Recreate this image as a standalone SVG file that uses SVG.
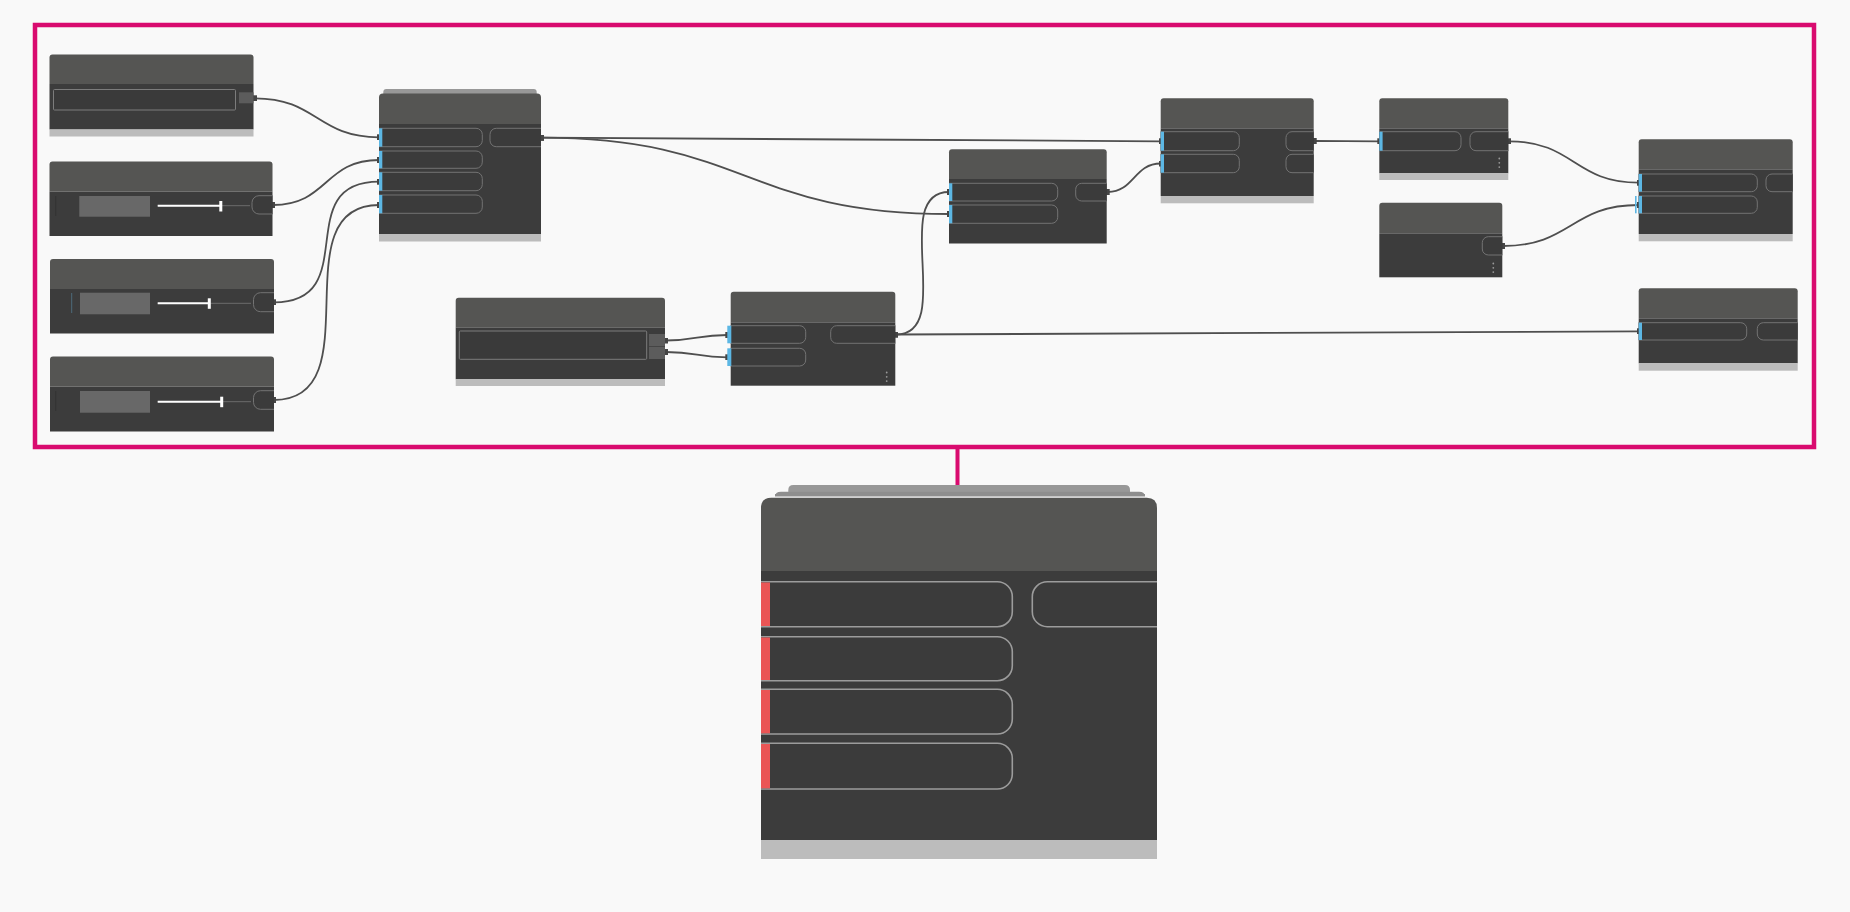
<svg xmlns="http://www.w3.org/2000/svg" width="1850" height="912" viewBox="0 0 1850 912">
  <defs>
    <style>
      .bg { fill: #f9f9f9; }
      .hd { fill: #555553; }
      .bd { fill: #3c3c3c; }
      .ft { fill: #bcbcbc; }
      .stk { fill: #8e8e8e; }
      .stk2 { fill: #989898; }
      .pill { fill: #3b3b3b; stroke: #737373; stroke-width: 1; }
      .bigpill { fill: #3b3b3b; stroke: #9c9c9c; stroke-width: 1.6; }
      .field { fill: #3a3a3a; stroke: #7c7c7c; stroke-width: 1; }
      .sq { fill: #5c5c5c; }
      .box { fill: #686868; }
      .port { fill: #5cb7e4; }
      .rport { fill: #ea5555; }
      .track { stroke: #6c6c6c; stroke-width: 1; }
      .fill { stroke: #ffffff; stroke-width: 2; }
      .knob { fill: #ffffff; }
      .dot { fill: #9a9a9a; }
      .mark { stroke: #333333; stroke-width: 1; }
      .wire { fill: none; stroke: #4f4f4f; stroke-width: 1.8; marker-start: url(#tip); marker-end: url(#tip); }
      .frame { fill: none; stroke: #d90b6f; stroke-width: 4.5; }
    </style>
    <marker id="tip" viewBox="0 0 4 6" refX="2" refY="3" markerWidth="4" markerHeight="6" markerUnits="userSpaceOnUse" orient="auto">
      <rect x="0" y="0" width="4" height="6" fill="#454545"/>
    </marker>
  </defs>

  <rect class="bg" x="0" y="0" width="1850" height="912"/>

  <!-- group outline and its link to the collapsed node -->
  <rect class="frame" x="35" y="25" width="1779" height="422"/>
  <line x1="957.5" y1="447" x2="957.5" y2="486" stroke="#d90b6f" stroke-width="4"/>

  <!-- connectors -->
  <g id="connectors">
    <path class="wire" d="M255,98.3 C317,98.3 317,137.3 379,137.3"/>
    <path class="wire" d="M273,205 C328,205 324,160 379,160"/>
    <path class="wire" d="M274,302.3 C364,302.3 289,181.7 379,181.7"/>
    <path class="wire" d="M274,400 C374,400 279,205 379,205"/>
    <path class="wire" d="M542,137.7 C850,137.7 850,141.3 1160.7,141.3"/>
    <path class="wire" d="M542,137.7 C746,137.7 745,214 949,214"/>
    <path class="wire" d="M666,340.5 C697,340.5 697,335 727.3,335"/>
    <path class="wire" d="M666,352 C697,352 697,357.3 727.3,357.3"/>
    <path class="wire" d="M896.3,334.5 C956,334.5 889,192 949,192"/>
    <path class="wire" d="M896.3,334.5 C1266,334.5 1268,331.3 1638.7,331.3"/>
    <path class="wire" d="M1107.7,192 C1134,192 1134,163.5 1160.7,163.5"/>
    <path class="wire" d="M1314.7,141 C1346,141 1346,141.3 1379.3,141.3"/>
    <path class="wire" d="M1509.3,141.3 C1574,141.3 1574,182.7 1638.7,182.7"/>
    <path class="wire" d="M1503.3,246 C1571,246 1571,205 1638.7,205"/>
  </g>

  <!-- string input, top left -->
  <g id="node-text-a">
    <path class="hd" d="M49.5,57.5 Q49.5,54.5 52.5,54.5 H250.5 Q253.5,54.5 253.5,57.5 V84 H49.5 Z"/>
    <rect class="bd" x="49.5" y="84" width="204" height="45.5"/>
    <rect class="ft" x="49.5" y="129.5" width="204" height="7"/>
    <rect class="field" x="53.5" y="89.5" width="182" height="20.5" rx="1"/>
    <rect class="sq" x="239" y="92.3" width="14.5" height="11"/>
  </g>

  <!-- number sliders -->
  <g id="node-slider-a">
    <path class="hd" d="M49.5,164.5 Q49.5,161.5 52.5,161.5 H269.5 Q272.5,161.5 272.5,164.5 V191.5 H49.5 Z"/>
    <rect class="bd" x="49.5" y="191.5" width="223" height="44.5"/>
    <line class="mark" x1="55.7" y1="196" x2="55.7" y2="216"/>
    <rect class="box" x="79.3" y="196" width="70.7" height="20.7"/>
    <line class="track" x1="157.7" y1="205.7" x2="250" y2="205.7"/>
    <line class="fill" x1="157.7" y1="205.7" x2="220.7" y2="205.7"/>
    <rect class="knob" x="219.3" y="201" width="3" height="10.5"/>
    <path class="pill" d="M272.5,195.7 H259 A7,7 0 0 0 252,202.7 V207 A7,7 0 0 0 259,214 H272.5"/>
  </g>

  <g id="node-slider-b">
    <path class="hd" d="M50,262 Q50,259 53,259 H271 Q274,259 274,262 V289 H50 Z"/>
    <rect class="bd" x="50" y="289" width="224" height="44.5"/>
    <line x1="71.7" y1="293" x2="71.7" y2="313" stroke="#4d6a7a" stroke-width="1"/>
    <rect class="box" x="80" y="292.7" width="70" height="21.6"/>
    <line class="track" x1="157.7" y1="303.3" x2="251" y2="303.3"/>
    <line class="fill" x1="157.7" y1="303.3" x2="209.3" y2="303.3"/>
    <rect class="knob" x="207.8" y="298.3" width="3" height="10.5"/>
    <path class="pill" d="M274,292.7 H260.5 A7,7 0 0 0 253.5,299.7 V304.7 A7,7 0 0 0 260.5,311.7 H274"/>
  </g>

  <g id="node-slider-c">
    <path class="hd" d="M50,359.5 Q50,356.5 53,356.5 H271 Q274,356.5 274,359.5 V386.5 H50 Z"/>
    <rect class="bd" x="50" y="386.5" width="224" height="45"/>
    <line class="mark" x1="55.7" y1="391" x2="55.7" y2="411"/>
    <rect class="box" x="80" y="391" width="70" height="21.7"/>
    <line class="track" x1="157.7" y1="401.7" x2="251" y2="401.7"/>
    <line class="fill" x1="157.7" y1="401.7" x2="221.7" y2="401.7"/>
    <rect class="knob" x="220.2" y="396.7" width="3" height="10.5"/>
    <path class="pill" d="M274,390.7 H260.5 A7,7 0 0 0 253.5,397.7 V402.3 A7,7 0 0 0 260.5,409.3 H274"/>
  </g>

  <!-- four-input node fed by the sliders -->
  <g id="node-combine">
    <path class="stk2" d="M383.3,92 Q383.3,89 386.3,89 H533.7 Q536.7,89 536.7,92 V94 H383.3 Z"/>
    <path class="hd" d="M379,97.5 Q379,93.5 383,93.5 H537 Q541,93.5 541,97.5 V124 H379 Z"/>
    <rect class="bd" x="379" y="124" width="162" height="110"/>
    <rect class="ft" x="379" y="234" width="162" height="7.5"/>
    <path class="pill" d="M379,128.3 H476 A6.2,6.2 0 0 1 482.3,134.5 V140.5 A6.2,6.2 0 0 1 476,146.7 H379"/>
    <path class="pill" d="M379,151 H476 A6.2,6.2 0 0 1 482.3,157.2 V162.1 A6.2,6.2 0 0 1 476,168.3 H379"/>
    <path class="pill" d="M379,172.3 H476 A6.2,6.2 0 0 1 482.3,178.5 V184.5 A6.2,6.2 0 0 1 476,190.7 H379"/>
    <path class="pill" d="M379,195 H476 A6.2,6.2 0 0 1 482.3,201.2 V207.1 A6.2,6.2 0 0 1 476,213.3 H379"/>
    <path class="pill" d="M541,128.3 H496.2 A6.2,6.2 0 0 0 490,134.5 V140.5 A6.2,6.2 0 0 0 496.2,146.7 H541"/>
    <rect class="port" x="379" y="128.3" width="3.3" height="18.4"/>
    <rect class="port" x="379" y="151" width="3.3" height="17.3"/>
    <rect class="port" x="379" y="172.3" width="3.3" height="18.4"/>
    <rect class="port" x="379" y="195" width="3.3" height="18.3"/>
  </g>

  <!-- string input, middle -->
  <g id="node-text-b">
    <path class="hd" d="M455.7,300.7 Q455.7,297.7 458.7,297.7 H662 Q665,297.7 665,300.7 V327.7 H455.7 Z"/>
    <rect class="bd" x="455.7" y="327.7" width="209.3" height="51.6"/>
    <rect class="ft" x="455.7" y="379.3" width="209.3" height="6.7"/>
    <rect class="field" x="459.3" y="331" width="187.4" height="28.3" rx="1"/>
    <rect class="sq" x="649" y="334" width="16" height="12"/>
    <rect class="sq" x="649" y="346.7" width="16" height="12.3"/>
  </g>

  <!-- two-input node below -->
  <g id="node-pair">
    <path class="hd" d="M730.7,294.7 Q730.7,291.7 733.7,291.7 H892.3 Q895.3,291.7 895.3,294.7 V322.3 H730.7 Z"/>
    <rect class="bd" x="730.7" y="322.3" width="164.6" height="63.4"/>
    <path class="pill" d="M730.7,325.7 H799.7 A6,6 0 0 1 805.7,331.7 V337.3 A6,6 0 0 1 799.7,343.3 H730.7"/>
    <path class="pill" d="M730.7,348.3 H799.7 A6,6 0 0 1 805.7,354.3 V360 A6,6 0 0 1 799.7,366 H730.7"/>
    <path class="pill" d="M895.3,325.7 H836.7 A6,6 0 0 0 830.7,331.7 V337.3 A6,6 0 0 0 836.7,343.3 H895.3"/>
    <rect class="port" x="727.3" y="325.7" width="4" height="17.6"/>
    <rect class="port" x="727.3" y="348.3" width="4" height="17.7"/>
    <circle class="dot" cx="886.7" cy="372.5" r="0.9"/>
    <circle class="dot" cx="886.7" cy="376.8" r="0.9"/>
    <circle class="dot" cx="886.7" cy="381.1" r="0.9"/>
  </g>

  <!-- two-input node, upper middle -->
  <g id="node-mid">
    <path class="hd" d="M949,152.3 Q949,149.3 952,149.3 H1103.7 Q1106.7,149.3 1106.7,152.3 V179 H949 Z"/>
    <rect class="bd" x="949" y="179" width="157.7" height="64.5"/>
    <path class="pill" d="M949,183.3 H1051.7 A6,6 0 0 1 1057.7,189.3 V195 A6,6 0 0 1 1051.7,201 H949"/>
    <path class="pill" d="M949,205 H1051.7 A6,6 0 0 1 1057.7,211 V217.3 A6,6 0 0 1 1051.7,223.3 H949"/>
    <path class="pill" d="M1106.7,183.3 H1081.7 A6,6 0 0 0 1075.7,189.3 V195 A6,6 0 0 0 1081.7,201 H1106.7"/>
    <rect class="port" x="949" y="183.3" width="3.3" height="17.7"/>
    <rect class="port" x="949" y="205" width="3.3" height="18.3"/>
  </g>

  <!-- two-in two-out node -->
  <g id="node-split">
    <path class="hd" d="M1160.7,101.3 Q1160.7,98.3 1163.7,98.3 H1310.7 Q1313.7,98.3 1313.7,101.3 V128.3 H1160.7 Z"/>
    <rect class="bd" x="1160.7" y="128.3" width="153" height="67.7"/>
    <rect class="ft" x="1160.7" y="196" width="153" height="7.3"/>
    <path class="pill" d="M1160.7,131.7 H1233.3 A6,6 0 0 1 1239.3,137.7 V144.7 A6,6 0 0 1 1233.3,150.7 H1160.7"/>
    <path class="pill" d="M1160.7,154.3 H1233.3 A6,6 0 0 1 1239.3,160.3 V166.7 A6,6 0 0 1 1233.3,172.7 H1160.7"/>
    <path class="pill" d="M1313.7,131.7 H1292 A6,6 0 0 0 1286,137.7 V144.7 A6,6 0 0 0 1292,150.7 H1313.7"/>
    <path class="pill" d="M1313.7,154.3 H1292 A6,6 0 0 0 1286,160.3 V166.7 A6,6 0 0 0 1292,172.7 H1313.7"/>
    <rect class="port" x="1160.7" y="131.7" width="3.3" height="19"/>
    <rect class="port" x="1160.7" y="154.3" width="3.3" height="18.4"/>
  </g>

  <!-- single-input node, upper right -->
  <g id="node-single">
    <path class="hd" d="M1379.3,101.3 Q1379.3,98.3 1382.3,98.3 H1505.3 Q1508.3,98.3 1508.3,101.3 V128.3 H1379.3 Z"/>
    <rect class="bd" x="1379.3" y="128.3" width="129" height="45"/>
    <rect class="ft" x="1379.3" y="173.3" width="129" height="6.7"/>
    <path class="pill" d="M1379.3,131.7 H1455 A6,6 0 0 1 1461,137.7 V144.7 A6,6 0 0 1 1455,150.7 H1379.3"/>
    <path class="pill" d="M1508.3,131.7 H1476 A6,6 0 0 0 1470,137.7 V144.7 A6,6 0 0 0 1476,150.7 H1508.3"/>
    <rect class="port" x="1379.3" y="131.7" width="3.3" height="19"/>
    <circle class="dot" cx="1499.3" cy="158.5" r="0.9"/>
    <circle class="dot" cx="1499.3" cy="162.8" r="0.9"/>
    <circle class="dot" cx="1499.3" cy="167.1" r="0.9"/>
  </g>

  <!-- source node without inputs -->
  <g id="node-source">
    <path class="hd" d="M1379.3,205.7 Q1379.3,202.7 1382.3,202.7 H1499.3 Q1502.3,202.7 1502.3,205.7 V233.3 H1379.3 Z"/>
    <rect class="bd" x="1379.3" y="233.3" width="123" height="44"/>
    <path class="pill" d="M1502.3,236.7 H1488.3 A6,6 0 0 0 1482.3,242.7 V249 A6,6 0 0 0 1488.3,255 H1502.3"/>
    <circle class="dot" cx="1493.3" cy="263.5" r="0.9"/>
    <circle class="dot" cx="1493.3" cy="267.8" r="0.9"/>
    <circle class="dot" cx="1493.3" cy="272.1" r="0.9"/>
  </g>

  <!-- two-input node, right -->
  <g id="node-right-a">
    <path class="hd" d="M1638.7,142.3 Q1638.7,139.3 1641.7,139.3 H1789.7 Q1792.7,139.3 1792.7,142.3 V169.3 H1638.7 Z"/>
    <rect class="bd" x="1638.7" y="169.3" width="154" height="64.7"/>
    <rect class="ft" x="1638.7" y="234" width="154" height="7.3"/>
    <path class="pill" d="M1638.7,174 H1751.3 A6,6 0 0 1 1757.3,180 V185.7 A6,6 0 0 1 1751.3,191.7 H1638.7"/>
    <path class="pill" d="M1638.7,196 H1751.3 A6,6 0 0 1 1757.3,202 V207.3 A6,6 0 0 1 1751.3,213.3 H1638.7"/>
    <path class="pill" d="M1792.7,174 H1772 A6,6 0 0 0 1766,180 V185.7 A6,6 0 0 0 1772,191.7 H1792.7"/>
    <rect class="port" x="1638.7" y="174" width="3.3" height="17.7"/>
    <rect class="port" x="1638.7" y="196" width="3.3" height="17.3"/>
    <rect class="port" x="1635" y="196" width="1.6" height="17.3"/>
  </g>

  <!-- single-input node, lower right -->
  <g id="node-right-b">
    <path class="hd" d="M1638.7,291.3 Q1638.7,288.3 1641.7,288.3 H1794.7 Q1797.7,288.3 1797.7,291.3 V318.3 H1638.7 Z"/>
    <rect class="bd" x="1638.7" y="318.3" width="159" height="45"/>
    <rect class="ft" x="1638.7" y="363.3" width="159" height="7.4"/>
    <path class="pill" d="M1638.7,322.7 H1740.7 A6,6 0 0 1 1746.7,328.7 V334 A6,6 0 0 1 1740.7,340 H1638.7"/>
    <path class="pill" d="M1797.7,322.7 H1763.3 A6,6 0 0 0 1757.3,328.7 V334 A6,6 0 0 0 1763.3,340 H1797.7"/>
    <rect class="port" x="1638.7" y="322.7" width="3.3" height="17.3"/>
  </g>

  <!-- collapsed group node -->
  <g id="node-group">
    <path class="stk2" d="M788.3,490 Q788.3,485 793.3,485 H1125 Q1130,485 1130,490 V492 H788.3 Z"/>
    <path class="stk" d="M775,497 Q775,491.7 781,491.7 H1139 Q1145,491.7 1145,497 V496.3 H775 Z"/>
    <rect class="stk" x="775" y="494" width="370" height="2.3"/>
    <path class="hd" d="M761,508 Q761,497.7 771.3,497.7 H1146.7 Q1157,497.7 1157,508 V571 H761 Z"/>
    <rect class="bd" x="761" y="571" width="396" height="269"/>
    <rect class="ft" x="761" y="840" width="396" height="19"/>
    <path class="bigpill" d="M761,581.7 H997 A15,15 0 0 1 1012.3,596.7 V611.7 A15,15 0 0 1 997,626.7 H761"/>
    <path class="bigpill" d="M761,636.7 H997 A15,15 0 0 1 1012.3,651.7 V665.7 A15,15 0 0 1 997,680.7 H761"/>
    <path class="bigpill" d="M761,689.3 H997 A15,15 0 0 1 1012.3,704.3 V719 A15,15 0 0 1 997,734 H761"/>
    <path class="bigpill" d="M761,743.3 H997 A15,15 0 0 1 1012.3,758.3 V774 A15,15 0 0 1 997,789 H761"/>
    <path class="bigpill" d="M1157,581.7 H1047.3 A15,15 0 0 0 1032.3,596.7 V611.7 A15,15 0 0 0 1047.3,626.7 H1157"/>
    <rect class="rport" x="761" y="582.5" width="9" height="43.5"/>
    <rect class="rport" x="761" y="637.5" width="9" height="42.5"/>
    <rect class="rport" x="761" y="690" width="9" height="43.3"/>
    <rect class="rport" x="761" y="744" width="9" height="44.3"/>
  </g>
</svg>
